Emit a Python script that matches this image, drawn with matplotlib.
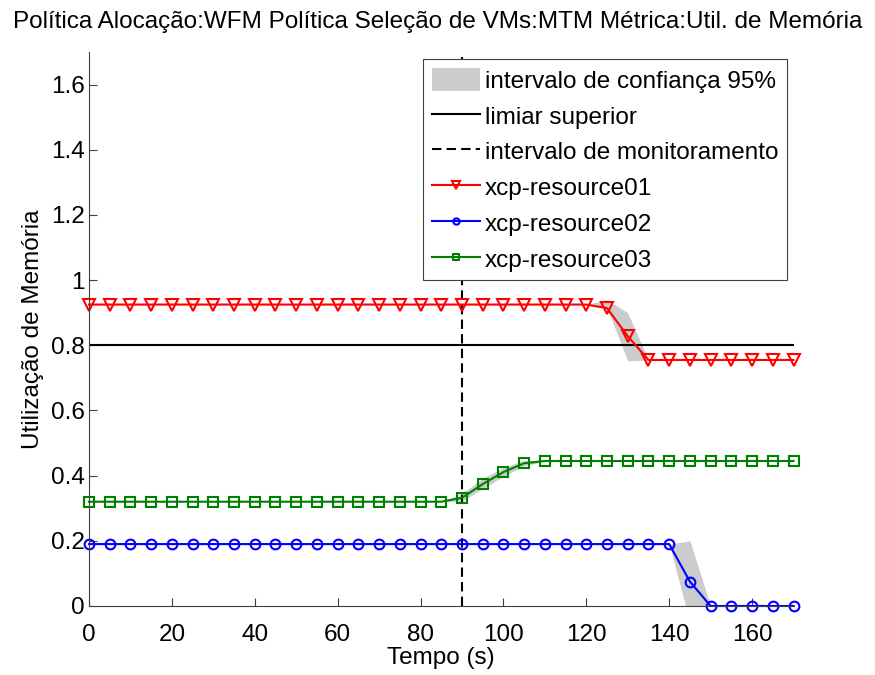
import matplotlib
matplotlib.use('Agg')
from matplotlib import pyplot as plt
from matplotlib.patches import Patch
import numpy as np

plt.rcParams['font.family'] = ['Liberation Sans', 'DejaVu Sans']

# tempo de amostragem (s)
tempo = np.arange(0, 175, 5)

res01 = [0.925] * 25 + [0.914, 0.828, 0.755, 0.755, 0.755, 0.755, 0.755, 0.755, 0.755, 0.755]
res02 = [0.19] * 29 + [0.075, 0.0, 0.0, 0.0, 0.0, 0.0]
res03 = [0.32] * 18 + [0.332, 0.374, 0.411, 0.438] + [0.445] * 13

# intervalos de confianca 95% (apenas onde ha variacao)
ic01_t = [120, 125, 130, 135]
ic01_lo = [0.925, 0.915, 0.752, 0.755]
ic01_hi = [0.925, 0.94, 0.90, 0.755]
ic02_t = [140, 145, 150]
ic02_lo = [0.19, -0.05, 0.0]
ic02_hi = [0.19, 0.20, 0.0]
ic03_t = [85, 90, 95, 100, 105, 110]
ic03_lo = [0.32, 0.322, 0.360, 0.398, 0.430, 0.445]
ic03_hi = [0.32, 0.345, 0.392, 0.425, 0.447, 0.445]

limiar = 0.8
t_monit = 90

fig = plt.figure(figsize=(8.75, 6.75), dpi=100)
ax = fig.add_axes([89 / 875, 69 / 675, 704.5 / 875, 554 / 675])
fs = 17.5

gray = '#cccccc'
ax.fill_between(ic01_t, ic01_lo, ic01_hi, color=gray, linewidth=0)
ax.fill_between(ic02_t, ic02_lo, ic02_hi, color=gray, linewidth=0)
ax.fill_between(ic03_t, ic03_lo, ic03_hi, color=gray, linewidth=0)

h_lim, = ax.plot([0, 170], [limiar, limiar], color='k', linewidth=1.5)
h_mon, = ax.plot([t_monit, t_monit], [0, 1.7], color='k', linestyle='--', linewidth=1.5,
                 dashes=(4.5, 2.5))

mk = dict(markerfacecolor='none', markeredgewidth=1.5, linewidth=1.5, clip_on=False)
h1, = ax.plot(tempo, res01, color='r', marker='v', markersize=8, **mk)
h2, = ax.plot(tempo, res02, color='b', marker='o', markersize=7, **mk)
h3, = ax.plot(tempo, res03, color='g', marker='s', markersize=6.5, **mk)

ax.set_xlim(0, 170)
ax.set_ylim(0, 1.7)
ax.set_xticks(np.arange(0, 170, 20))
ax.set_yticks([0, 0.2, 0.4, 0.6, 0.8, 1, 1.2, 1.4, 1.6])
ax.set_yticklabels(['0', '0.2', '0.4', '0.6', '0.8', '1', '1.2', '1.4', '1.6'])
ax.tick_params(direction='in', length=6, width=0.8, color='#404040', labelsize=fs)
ax.tick_params(axis='y', pad=3)
ax.tick_params(axis='x', pad=13)
for s in ['top', 'right']:
    ax.spines[s].set_visible(False)
for s in ['left', 'bottom']:
    ax.spines[s].set_color('#404040')
    ax.spines[s].set_linewidth(0.8)

ax.set_xlabel('Tempo (s)', fontsize=fs, labelpad=1)
ax.set_ylabel('Utilização de Memória', fontsize=fs, labelpad=5)
fig.text(0.5, 0.984, 'Política Alocação:WFM Política Seleção de VMs:MTM Métrica:Util. de Memória',
         fontsize=fs, ha='center', va='top')

h_ic = Patch(facecolor=gray, edgecolor='none')
leg = ax.legend([h_ic, h_lim, h_mon, h1, h2, h3],
                ['intervalo de confiança 95%', 'limiar superior', 'intervalo de monitoramento',
                 'xcp-resource01', 'xcp-resource02', 'xcp-resource03'],
                loc='upper right', bbox_to_anchor=(0.991, 0.987), borderaxespad=0,
                fancybox=False, framealpha=1, edgecolor='#404040', fontsize=fs,
                handlelength=2.0, handleheight=1.1, handletextpad=0.2, labelspacing=0.45,
                borderpad=0.35, markerscale=0.65)
leg.get_frame().set_linewidth(0.8)

fig.savefig('out.png', dpi=100)
